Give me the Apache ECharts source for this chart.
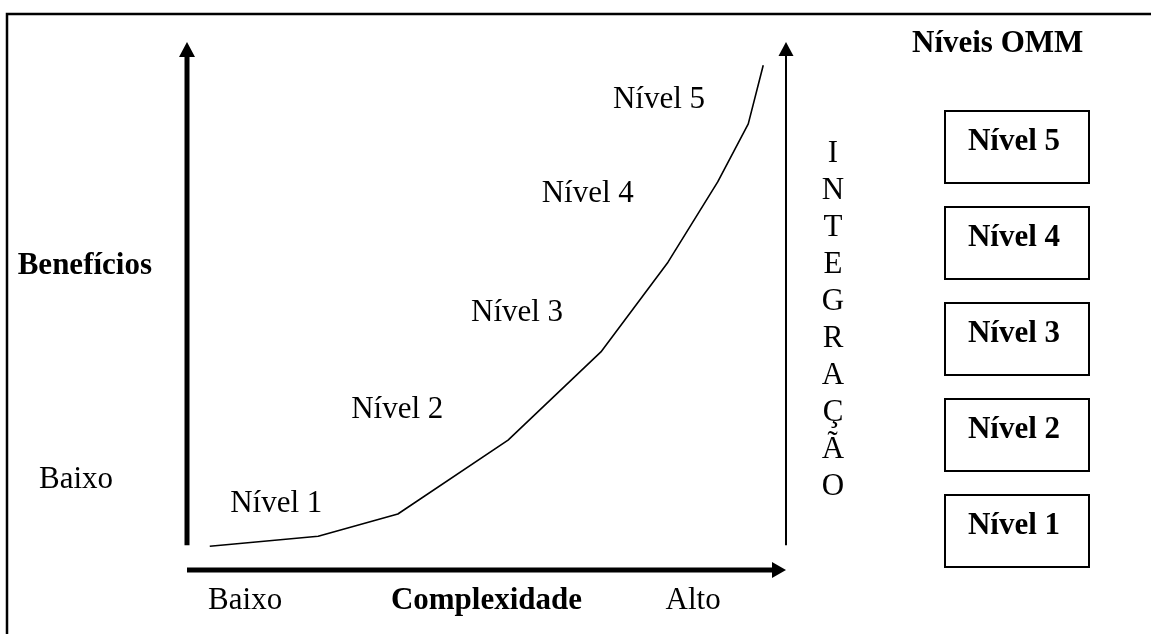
<!DOCTYPE html>
<html><head><meta charset="utf-8">
<script src="https://cdn.jsdelivr.net/npm/echarts@6/dist/echarts.min.js"></script>
<style>html,body{margin:0;padding:0;background:#fff}#c{width:1151px;height:634px}</style>
</head><body><div id="c"></div>
<script>
// ---- data ----
const curveX = [3.8, 21.9, 35.2, 53.6, 69.1, 80.3, 88.6, 93.7, 96.2];
const curveY = [4.5, 6.4, 10.6, 24.6, 41.3, 58.3, 73.5, 84.5, 95.6];
const levelNames = ['Nível 1', 'Nível 2', 'Nível 3', 'Nível 4', 'Nível 5'];
const levelLabelX = [14.9, 35.1, 55.1, 66.9, 78.8];
const levelLabelY = [12.5, 30.4, 48.7, 71.2, 89.0];
const xTickValues = [9.7, 84.5];
const xTickLabels = ['Baixo', 'Alto'];
const yTickValues = [17.0];
const yTickLabels = ['Baixo'];
const xTitle = 'Complexidade';
const yTitle = 'Benefícios';
const rightTitle = 'INTEGRAÇÃO';
const legendTitle = 'Níveis OMM';

// ---- chart ----
const FONT = "'Liberation Serif', 'Times New Roman', serif";
const FS = 31;
const chart = echarts.init(document.getElementById('c'), null, {renderer: 'canvas'});

function pickLabel(vals, labels, v) {
  let best = 0;
  for (let i = 1; i < vals.length; i++) if (Math.abs(vals[i] - v) < Math.abs(vals[best] - v)) best = i;
  return labels[best];
}

// arrow definitions in data space (from -> tip)
const arrowBase = curveY[0] + 0.2;
const arrowSpecs = [
  {from: [0, arrowBase], to: [0, 100], w: 5, hw: 16, hl: 15},
  {from: [0, 0], to: [100, 0], w: 5, hw: 16, hl: 14},
  {from: [100, arrowBase], to: [100, 100], w: 2, hw: 15, hl: 14}
];

const option = {
  backgroundColor: '#fff',
  animation: false,
  title: {
    text: legendTitle, left: 912, top: 28, padding: 0,
    textStyle: {fontFamily: FONT, fontSize: FS, fontWeight: 'bold', color: '#000'}
  },
  graphic: [{
    type: 'rect', shape: {x: 7, y: 14, width: 1400, height: 900},
    style: {fill: 'transparent', stroke: '#000', lineWidth: 2.5}, z: 0
  }],
  grid: [
    {left: 187, right: 365, top: 42, bottom: 64, containLabel: false, outerBoundsMode: 'none'},
    {left: 945, width: 144, top: 99, height: 480, containLabel: false, outerBoundsMode: 'none'}
  ],
  xAxis: [{
    gridIndex: 0, type: 'value', min: 0, max: 100,
    axisLine: {show: false}, axisTick: {show: false}, splitLine: {show: false},
    axisLabel: {
      customValues: xTickValues, margin: 15,
      formatter: v => pickLabel(xTickValues, xTickLabels, v),
      fontFamily: FONT, fontSize: FS, color: '#000'
    },
    name: xTitle, nameLocation: 'middle', nameGap: 15, nameMoveOverlap: false,
    nameTextStyle: {fontFamily: FONT, fontSize: FS, fontWeight: 'bold', color: '#000'}
  }, {
    gridIndex: 1, type: 'value', min: 0, max: 1, show: false
  }],
  yAxis: [{
    gridIndex: 0, type: 'value', min: 0, max: 100, position: 'left',
    axisLine: {show: false}, axisTick: {show: false}, splitLine: {show: false},
    axisLabel: {
      customValues: yTickValues, margin: 74,
      formatter: v => pickLabel(yTickValues, yTickLabels, v),
      fontFamily: FONT, fontSize: FS, color: '#000'
    },
    name: yTitle + '\n{gap| }', nameLocation: 'middle', nameRotate: 0, nameGap: 35, nameMoveOverlap: false,
    nameTextStyle: {fontFamily: FONT, fontSize: FS, fontWeight: 'bold', color: '#000',
      align: 'right', verticalAlign: 'middle',
      rich: {gap: {fontSize: 2, lineHeight: 80}}}
  }, {
    gridIndex: 0, type: 'value', min: 0, max: 100, position: 'right',
    axisLine: {show: false}, axisTick: {show: false}, splitLine: {show: false}, axisLabel: {show: false},
    name: '{gap| }\n' + rightTitle.split('').join('\n'), nameLocation: 'middle', nameRotate: 0, nameGap: 47,
    nameMoveOverlap: false,
    nameTextStyle: {fontFamily: FONT, fontSize: FS, color: '#000', lineHeight: 37,
      align: 'center', verticalAlign: 'middle',
      rich: {gap: {fontSize: 2, lineHeight: 28}}}
  }, {
    gridIndex: 1, type: 'category', data: levelNames, show: false
  }],
  series: [{
    type: 'custom', xAxisIndex: 0, yAxisIndex: 0, clip: false, z: 3,
    data: arrowSpecs.map((s, i) => [i]),
    renderItem: function (params, api) {
      const s = arrowSpecs[params.dataIndex];
      const p0 = api.coord(s.from), p1 = api.coord(s.to);
      const dx = p1[0] - p0[0], dy = p1[1] - p0[1];
      const L = Math.sqrt(dx * dx + dy * dy);
      const ux = dx / L, uy = dy / L, nx = -uy, ny = ux;
      const bx = p1[0] - ux * s.hl, by = p1[1] - uy * s.hl;
      return {
        type: 'group', children: [{
          type: 'line',
          shape: {x1: p0[0], y1: p0[1], x2: bx + ux * 2, y2: by + uy * 2},
          style: {stroke: '#000', lineWidth: s.w}
        }, {
          type: 'polygon',
          shape: {points: [[p1[0], p1[1]], [bx + nx * s.hw / 2, by + ny * s.hw / 2], [bx - nx * s.hw / 2, by - ny * s.hw / 2]]},
          style: {fill: '#000'}
        }]
      };
    }
  }, {
    type: 'line', xAxisIndex: 0, yAxisIndex: 0, z: 4,
    data: curveX.map((x, i) => [x, curveY[i]]),
    symbol: 'none', lineStyle: {color: '#000', width: 1.6}
  }, {
    type: 'scatter', xAxisIndex: 0, yAxisIndex: 0, z: 5, symbolSize: 0,
    itemStyle: {opacity: 1, color: '#000'},
    data: levelNames.map((n, i) => ({name: n, value: [levelLabelX[i], levelLabelY[i]]})),
    label: {show: true, position: 'inside', formatter: '{b}', opacity: 1,
      fontFamily: FONT, fontSize: FS, color: '#000'}
  }, {
    type: 'custom', xAxisIndex: 1, yAxisIndex: 2, z: 5,
    data: levelNames.map((n, i) => [0.5, i]),
    renderItem: function (params, api) {
      const c = api.coord([api.value(0), api.value(1)]);
      const sz = api.size([1, 1]);
      const h = sz[1] * 0.75;
      return {
        type: 'group', children: [{
          type: 'rect',
          shape: {x: c[0] - sz[0] / 2, y: c[1] - h / 2, width: sz[0], height: h},
          style: {fill: '#fff', stroke: '#000', lineWidth: 2}
        }, {
          type: 'text',
          style: {text: levelNames[params.dataIndex], x: c[0] - 3, y: c[1] - 5,
            align: 'center', verticalAlign: 'middle',
            font: 'bold ' + FS + 'px ' + FONT, fill: '#000'}
        }]
      };
    }
  }]
};
chart.setOption(option);
</script>
</body></html>
